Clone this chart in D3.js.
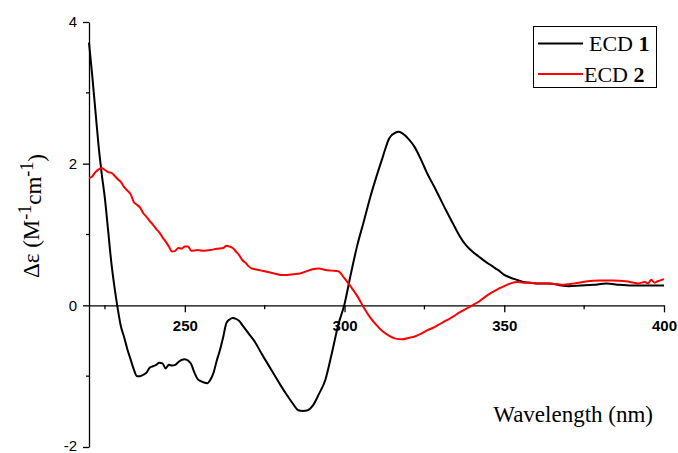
<!DOCTYPE html>
<html>
<head>
<meta charset="utf-8">
<script src="https://cdnjs.cloudflare.com/ajax/libs/d3/7.8.5/d3.min.js"></script>
<style>
  body { margin: 0; background: #fff; }
  #chart { width: 678px; height: 453px; }
  .tick-label { font-family: 'Liberation Sans', Arial, sans-serif; font-size: 15px; fill: #000; }
  .serif { font-family: 'Liberation Serif', 'Times New Roman', serif; fill: #000; }
</style>
</head>
<body>
<div id="chart"></div>
<script>
// ---------- DATA ----------
// ECD 1 (black)
const wl1 = [220, 221, 222, 223, 224, 225, 226, 227, 228, 229, 230, 231, 232, 233, 234, 235, 236, 237, 238, 239,
  240, 241, 242, 243, 244, 245, 246, 247, 248, 249, 250, 251, 252, 253, 254, 255, 256, 257, 258, 259,
  260, 261, 262, 263, 264, 265, 266, 267, 268, 270, 272, 274, 276, 278, 280, 282, 284, 285.5, 287, 288.5,
  290, 292, 294, 296, 298, 300, 302, 304, 306, 308, 310, 312, 314, 316, 317, 318, 320, 322, 324, 326,
  328, 330, 332, 334, 336, 338, 340, 342, 344, 346, 348, 350, 352, 354, 356, 358, 360, 364, 368, 370,
  374, 378, 382, 386, 390, 394, 398, 400];
const ecd1 = [3.71, 3.25, 2.75, 2.25, 1.85, 1.5, 1.05, 0.6, 0.25, -0.05, -0.3, -0.45, -0.62, -0.76, -0.9, -1.0, -1.0, -0.98, -0.95, -0.88,
  -0.86, -0.84, -0.81, -0.82, -0.89, -0.84, -0.85, -0.84, -0.8, -0.77, -0.76, -0.78, -0.83, -0.95, -1.04, -1.07, -1.09, -1.1, -1.05, -0.95,
  -0.78, -0.63, -0.45, -0.25, -0.2, -0.18, -0.19, -0.22, -0.28, -0.4, -0.52, -0.68, -0.83, -0.98, -1.13, -1.27, -1.4, -1.48, -1.49, -1.48,
  -1.42, -1.25, -1.05, -0.68, -0.28, 0.02, 0.45, 0.85, 1.18, 1.52, 1.82, 2.1, 2.36, 2.44, 2.45, 2.43, 2.35, 2.23, 2.05, 1.85,
  1.68, 1.5, 1.32, 1.15, 0.98, 0.85, 0.76, 0.69, 0.62, 0.56, 0.5, 0.43, 0.39, 0.36, 0.33, 0.32, 0.31, 0.31, 0.28, 0.27,
  0.28, 0.29, 0.31, 0.29, 0.28, 0.28, 0.28, 0.28];

// ECD 2 (red)
const wl2 = [220, 221, 222, 223, 224, 225, 226, 227, 228, 229, 230, 231, 232, 233, 234, 235, 236, 237, 238, 239,
  240, 241, 242, 243, 244, 245, 246, 247, 248, 249, 250, 251, 252, 254, 256, 258, 260, 262, 263, 264,
  265, 266, 267, 268, 269, 270, 271, 272, 274, 276, 278, 280, 282, 284, 286, 288, 290, 292, 294, 296,
  298, 300, 302, 304, 306, 308, 310, 312, 314, 316, 318, 320, 322, 324, 326, 328, 330, 332, 334, 336,
  338, 340, 342, 344, 346, 348, 350, 352, 354, 356, 358, 360, 364, 368, 372, 376, 380, 384, 388, 392,
  394, 395, 396, 397, 398, 400];
const ecd2 = [1.8, 1.82, 1.88, 1.92, 1.94, 1.91, 1.88, 1.87, 1.83, 1.78, 1.74, 1.67, 1.62, 1.57, 1.46, 1.42, 1.38, 1.3, 1.25, 1.19,
  1.14, 1.08, 1.03, 0.96, 0.9, 0.83, 0.76, 0.77, 0.81, 0.8, 0.83, 0.83, 0.77, 0.78, 0.77, 0.78, 0.8, 0.81, 0.84, 0.83,
  0.81, 0.76, 0.71, 0.64, 0.6, 0.55, 0.52, 0.51, 0.49, 0.47, 0.45, 0.43, 0.43, 0.44, 0.45, 0.48, 0.51, 0.52, 0.5, 0.49,
  0.48, 0.38, 0.26, 0.13, -0.03, -0.17, -0.28, -0.37, -0.43, -0.47, -0.48, -0.46, -0.44, -0.4, -0.35, -0.31, -0.26, -0.21, -0.16, -0.1,
  -0.05, 0.0, 0.05, 0.12, 0.18, 0.23, 0.27, 0.31, 0.33, 0.32, 0.32, 0.31, 0.31, 0.29, 0.31, 0.34, 0.35, 0.35, 0.34, 0.31,
  0.33, 0.31, 0.36, 0.32, 0.34, 0.37];

const xMajorTicks = [250, 300, 350, 400];
const xMinorTicks = [225, 275, 325, 375];
const yMajorTicks = [-2, 0, 2, 4];
const yMinorTicks = [-1, 1, 3];

const series = [
  { key: 'ECD', num: '1', color: '#000000', wl: wl1, val: ecd1 },
  { key: 'ECD', num: '2', color: '#ff0000', wl: wl2, val: ecd2 },
];

// ---------- SVG ----------
const svg = d3.select('#chart').append('svg')
  .attr('width', 678)
  .attr('height', 453);

const x = d3.scaleLinear().domain([220, 400]).range([89, 664]);
const y = d3.scaleLinear().domain([-2, 4]).range([447, 22]);

// ---------- AXES ----------
// y axis (left)
const yAxis = svg.append('g')
  .attr('transform', `translate(${x(220)},0)`)
  .call(d3.axisLeft(y).tickValues(yMajorTicks).tickSize(6).tickSizeOuter(0).tickPadding(6)
    .tickFormat(d3.format('d')));
yAxis.select('.domain').attr('stroke', '#000').attr('stroke-width', 1.3);
yAxis.selectAll('.tick line').attr('stroke', '#000').attr('stroke-width', 1.3);
yAxis.selectAll('.tick text').attr('class', 'tick-label').attr('font-family', null).attr('font-size', null)
  .attr('dy', d => d === -2 ? '0.2em' : '0.32em')
  .text(d => d < 0 ? '-' + Math.abs(d) : d);

svg.append('g')
  .selectAll('line')
  .data(yMinorTicks)
  .enter()
  .append('line')
  .attr('x1', x(220) - 3)
  .attr('x2', x(220))
  .attr('y1', d => y(d))
  .attr('y2', d => y(d))
  .attr('stroke', '#000')
  .attr('stroke-width', 1.3);

// x axis at zero
const xAxis = svg.append('g')
  .attr('transform', `translate(0,${y(0)})`)
  .call(d3.axisBottom(x).tickValues(xMajorTicks).tickSize(7).tickSizeOuter(0).tickPadding(8)
    .tickFormat(d3.format('d')));
xAxis.select('.domain').attr('stroke', '#000').attr('stroke-width', 1.3);
xAxis.selectAll('.tick line').attr('stroke', '#000').attr('stroke-width', 1.3);
xAxis.selectAll('.tick text').attr('class', 'tick-label').attr('font-family', null).attr('font-size', null)
  .style('font-weight', 'bold');

svg.append('g')
  .selectAll('line')
  .data(xMinorTicks)
  .enter()
  .append('line')
  .attr('x1', d => x(d))
  .attr('x2', d => x(d))
  .attr('y1', y(0))
  .attr('y2', y(0) + 4)
  .attr('stroke', '#000')
  .attr('stroke-width', 1.3);

// ---------- AXIS LABELS ----------
svg.append('text')
  .attr('class', 'serif')
  .attr('x', 653)
  .attr('y', 422)
  .attr('text-anchor', 'end')
  .style('font-size', '23px')
  .text('Wavelength (nm)');

const yLabel = svg.append('text')
  .attr('class', 'serif')
  .attr('transform', 'translate(39,216) rotate(-90)')
  .attr('text-anchor', 'middle')
  .style('font-size', '23px');
yLabel.append('tspan').text('Δε (M');
yLabel.append('tspan').attr('dy', '-0.45em').style('font-size', '18px').text('-1');
yLabel.append('tspan').attr('dy', '0.45em').text('cm');
yLabel.append('tspan').attr('dy', '-0.45em').style('font-size', '18px').text('-1');
yLabel.append('tspan').attr('dy', '0.45em').text(')');

// ---------- LINES ----------
const line = d3.line()
  .x(d => x(d[0]))
  .y(d => y(d[1]))
  .curve(d3.curveMonotoneX);

svg.append('g')
  .selectAll('path')
  .data(series)
  .enter()
  .append('path')
  .attr('d', s => line(s.wl.map((w, i) => [w, s.val[i]])))
  .attr('fill', 'none')
  .attr('stroke', s => s.color)
  .attr('stroke-width', 2)
  .attr('stroke-linejoin', 'round');

// ---------- LEGEND ----------
const legend = svg.append('g');
legend.append('rect')
  .attr('x', 533.5)
  .attr('y', 26.5)
  .attr('width', 123)
  .attr('height', 61)
  .attr('fill', '#fff')
  .attr('stroke', '#000')
  .attr('stroke-width', 1);

const legendRows = [
  { ly: 43.5, ty: 51, tx: 589 },
  { ly: 74, ty: 82, tx: 584 },
];

series.forEach((s, i) => {
  const r = legendRows[i];
  legend.append('line')
    .attr('x1', 538)
    .attr('x2', 583)
    .attr('y1', r.ly)
    .attr('y2', r.ly)
    .attr('stroke', s.color)
    .attr('stroke-width', 2);
  const t = legend.append('text')
    .attr('class', 'serif')
    .attr('x', r.tx)
    .attr('y', r.ty)
    .style('font-size', '22px');
  t.append('tspan').text(s.key + ' ');
  t.append('tspan').style('font-weight', 'bold').text(s.num);
});
</script>
</body>
</html>
